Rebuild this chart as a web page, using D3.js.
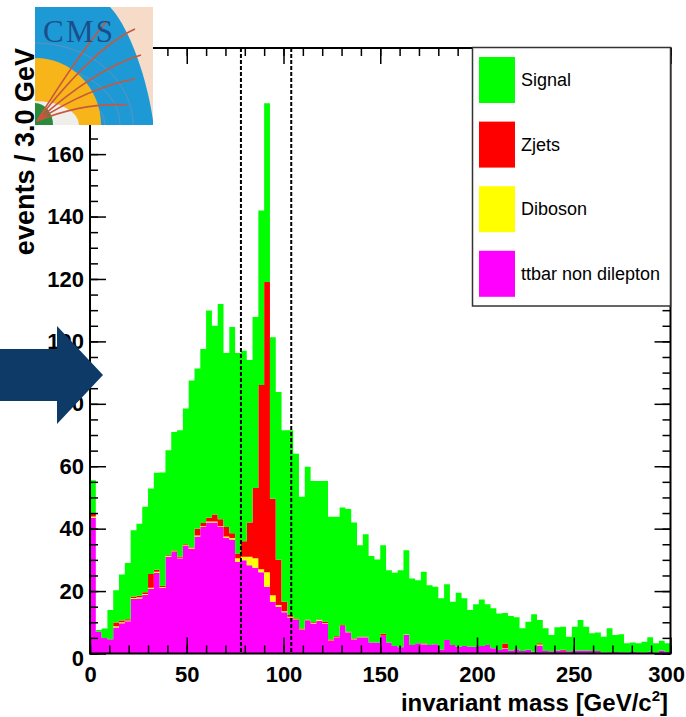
<!DOCTYPE html>
<html>
<head>
<meta charset="utf-8">
<script src="https://cdn.jsdelivr.net/npm/d3@7"></script>
<style>
  body { margin: 0; background: #fff; }
  svg { display: block; }
  text { font-family: "Liberation Sans", Arial, Helvetica, sans-serif; }
</style>
</head>
<body>
<div id="chart"></div>
<script>
(function() {
  "use strict";

  // ---- data (events per 3 GeV bin) ----
  var binWidth = 3;
  var binLow = d3.range(0, 300, binWidth);

  var ttbar = [43.5,7.0,5,4.6,8.3,9.7,10.3,17.5,17.6,18.8,
    20.7,25.8,21,31,32.5,30.5,34.5,33.5,37.5,40.5,
    42,42,40.5,37,36.5,29.4,29.9,28.3,27.5,26,
    21.4,16.6,15,13.2,11.5,10.7,7.5,10.5,9.6,10.5,
    9.6,4,5.2,8.8,6.7,4.5,5.2,5.2,3.5,3.5,
    5.6,3.5,2.4,2,5.9,2.7,3.3,3,2.7,3,
    1.3,4.3,2.7,2.2,2.4,2.2,2.2,2.4,2.7,1.7,
    1.1,1.5,1.0,1.4,0.8,1.2,0.6,2.6,0.8,0.7,
    1,0.9,0.7,0.9,1,1,0.8,0.8,0.3,0.4,
    0.5,0.4,0.3,0.5,0.4,0.3,0.6,0.3,1.0,0.5];

  var diboson = [0.4,0,0,0,0.4,0.3,0.3,0.3,0.4,0.3,
    0.4,0.4,0.3,0.2,0.2,0.2,0.2,0.2,0.3,0.3,
    0.3,0.3,0.3,0.5,0.5,1.1,1.1,2.7,3,1,
    4.6,2.1,0.5,0.3,0.3,0.2,0.2,0.1,0.2,0.2,
    0.2,0.2,0.2,0.1,0.1,0.1,0.1,0.1,0,0,
    0.1,0,0,0,0.2,0,0,0.1,0,0,
    0,0,0,0,0,0,0,0,0,0,
    0,0.2,0,0,0,0,0,0.3,0,0,
    0,0,0,0,0,0,0,0,0,0,
    0,0,0,0,0,0,0,0,0,0];

  var zjets = [0.8,0,0,0,1.2,0.6,0.4,0.4,0.5,0.5,
    4.4,0.6,0.4,0.3,0.3,0.3,0.3,0.3,2.2,1,
    1.2,2.2,2.2,3,1.5,1.5,5,11,22.5,59,
    93,30.9,14.5,3.1,0.5,0.3,0.3,0.2,0.2,0.2,
    0.4,0.3,0.2,0.2,0.2,0.2,0.1,0.1,0,0,
    0.6,0,0,0,0,0,0,0.2,0,0,
    0,0,0,0,0,0,0,0,0,0,
    0,1.5,0,0,0,0,0,0.4,0,0,
    0,0.3,0,0,0,0,0,0,0,0,
    0,0,0,0,0,0,0,0,0,0];

  var signal = [10.8,0.5,3,9.3,10.4,14.7,18,21.3,23.1,27.4,
    27.4,31.1,36.3,33.6,38,40.5,43.5,53.5,51.3,55.8,
    66.4,60.5,69,55.8,66.1,64.3,61,52,54.8,55.9,
    57.3,51.7,53.8,54.9,59.2,52.8,42.2,49,45.3,44.4,
    45.1,39.3,38.2,37.7,39.3,37.2,29.3,32.8,27.7,26.6,
    28.4,23.2,23.5,24.7,27,21.3,20.2,22.9,19.2,18.4,
    16.4,17.9,13.9,17.3,15.3,11.7,13.6,14.9,13.1,12.8,
    11.7,9.8,11,10.2,7.3,9,12,7.4,7.3,5.2,
    7.4,7.4,4.7,7.7,9.7,7.6,5.7,5.9,5.1,7.7,
    5.4,5.8,3,3,2.9,3.5,4.6,3,3.1,2.8];

  var xTicks = [0, 50, 100, 150, 200, 250, 300];
  var yTicks = [0, 20, 40, 60, 80, 100, 120, 140, 160, 180];
  var zWindow = [78, 104];

  var layers = ["ttbar", "diboson", "zjets", "signal"];
  var colors = {ttbar: "#ff00ff", diboson: "#ffff00", zjets: "#ff0000", signal: "#00ff00"};
  var legendItems = [
    {key: "signal", label: "Signal"},
    {key: "zjets", label: "Zjets"},
    {key: "diboson", label: "Diboson"},
    {key: "ttbar", label: "ttbar non dilepton"}
  ];

  // ---- layout ----
  var width = 686, height = 717;
  var frame = {left: 90, right: 670.5, top: 48, bottom: 653.5};

  var svg = d3.select("#chart").append("svg")
    .attr("width", width)
    .attr("height", height);

  var x = d3.scaleLinear().domain([0, 300]).range([frame.left, frame.right]);
  var y = d3.scaleLinear().domain([0, 194]).range([frame.bottom, frame.top]);

  // rows for the stack, plus a closing edge at 300 for the step curve
  var rows = binLow.map(function(lo, i) {
    return {x0: lo, ttbar: ttbar[i], diboson: diboson[i], zjets: zjets[i], signal: signal[i]};
  });
  rows.push(Object.assign({}, rows[rows.length - 1], {x0: 300}));

  var stacked = d3.stack().keys(layers)(rows);

  svg.append("clipPath").attr("id", "frameClip")
    .append("rect")
    .attr("x", frame.left).attr("y", frame.top)
    .attr("width", frame.right - frame.left)
    .attr("height", frame.bottom - frame.top);

  var area = d3.area()
    .curve(d3.curveStepAfter)
    .x(function(d) { return x(d.data.x0); })
    .y0(function(d) { return y(d[0]); })
    .y1(function(d) { return y(d[1]); });

  svg.append("g").attr("clip-path", "url(#frameClip)")
    .selectAll("path")
    .data(stacked)
    .join("path")
    .attr("d", area)
    .attr("fill", function(d) { return colors[d.key]; });

  // Z mass window
  svg.append("g").selectAll("line")
    .data(zWindow)
    .join("line")
    .attr("x1", function(d) { return x(d); })
    .attr("x2", function(d) { return x(d); })
    .attr("y1", frame.top)
    .attr("y2", frame.bottom)
    .attr("stroke", "#000")
    .attr("stroke-width", 2)
    .attr("stroke-dasharray", "4,2");

  // ---- axes (ROOT style: ticks point inwards on all four sides) ----
  function styleAxis(g) {
    g.select(".domain").remove();
    g.selectAll("line").attr("stroke", "#000").attr("stroke-width", 1.5);
    g.attr("font-family", null).attr("font-size", null);
    g.selectAll("text")
      .attr("font-size", 22)
      .attr("font-weight", "bold")
      .attr("fill", "#000");
  }

  var xMinor = d3.range(0, 301, 10);
  var yMinor = d3.range(0, 195, 5);

  svg.append("g").attr("transform", "translate(0," + frame.bottom + ")")
    .call(d3.axisBottom(x).tickValues(xMinor).tickSize(-8).tickFormat(""))
    .call(styleAxis);
  var xAxis = svg.append("g").attr("transform", "translate(0," + frame.bottom + ")")
    .call(d3.axisBottom(x).tickValues(xTicks).tickSize(-16).tickPadding(12.5).tickFormat(d3.format("d")))
    .call(styleAxis);
  // keep the last label inside the page, as in the original
  xAxis.selectAll(".tick text").filter(function(d) { return d === 300; })
    .attr("text-anchor", "end").attr("x", 14);

  svg.append("g").attr("transform", "translate(0," + frame.top + ")")
    .call(d3.axisTop(x).tickValues(xMinor).tickSize(-8).tickFormat(""))
    .call(styleAxis);
  svg.append("g").attr("transform", "translate(0," + frame.top + ")")
    .call(d3.axisTop(x).tickValues(xTicks).tickSize(-16).tickFormat(""))
    .call(styleAxis);

  svg.append("g").attr("transform", "translate(" + frame.left + ",0)")
    .call(d3.axisLeft(y).tickValues(yMinor).tickSize(-8).tickFormat(""))
    .call(styleAxis);
  var yAxis = svg.append("g").attr("transform", "translate(" + frame.left + ",0)")
    .call(d3.axisLeft(y).tickValues(yTicks).tickSize(-16).tickPadding(6).tickFormat(d3.format("d")))
    .call(styleAxis);
  yAxis.selectAll(".tick text").filter(function(d) { return d === 0; }).attr("dy", "0.55em");

  svg.append("g").attr("transform", "translate(" + frame.right + ",0)")
    .call(d3.axisRight(y).tickValues(yMinor).tickSize(-8).tickFormat(""))
    .call(styleAxis);
  svg.append("g").attr("transform", "translate(" + frame.right + ",0)")
    .call(d3.axisRight(y).tickValues(yTicks).tickSize(-16).tickFormat(""))
    .call(styleAxis);

  svg.append("rect")
    .attr("x", frame.left).attr("y", frame.top)
    .attr("width", frame.right - frame.left)
    .attr("height", frame.bottom - frame.top)
    .attr("fill", "none")
    .attr("stroke", "#000")
    .attr("stroke-width", 2);

  // axis titles
  var xTitle = svg.append("text")
    .attr("x", 668).attr("y", 711)
    .attr("text-anchor", "end")
    .attr("font-size", 24)
    .attr("font-weight", "bold");
  xTitle.append("tspan").text("invariant mass [GeV/c");
  xTitle.append("tspan").attr("dy", -10).attr("font-size", 15).text("2");
  xTitle.append("tspan").attr("dy", 10).text("]");

  svg.append("text")
    .attr("transform", "translate(34," + frame.top + ") rotate(-90)")
    .attr("text-anchor", "end")
    .attr("font-size", 27)
    .attr("font-weight", "bold")
    .text("events / 3.0 GeV");

  // ---- legend ----
  var legend = svg.append("g");
  legend.append("rect")
    .attr("x", 472.5).attr("y", frame.top - 0.5)
    .attr("width", frame.right - 472.5)
    .attr("height", 258.5)
    .attr("fill", "#fff")
    .attr("stroke", "#333")
    .attr("stroke-width", 1.5);

  var entry = legend.selectAll("g.entry")
    .data(legendItems)
    .join("g")
    .attr("class", "entry")
    .attr("transform", function(d, i) { return "translate(479," + (57 + i * 64.6) + ")"; });
  entry.append("rect")
    .attr("width", 36).attr("height", 46)
    .attr("fill", function(d) { return colors[d.key]; });
  entry.append("text")
    .attr("x", 42).attr("y", 23).attr("dy", "0.35em")
    .attr("font-size", 18)
    .attr("fill", "#000")
    .text(function(d) { return d.label; });

  // ---- CMS logo (drawn over the top-left corner) ----
  var logo = svg.append("g").attr("transform", "translate(35,7)");
  var side = 118;
  function quarter(rx, ry) {
    return "M0," + (side - ry) + " A" + rx + "," + ry + " 0 0 1 " + rx + "," + side + " L0," + side + " Z";
  }
  logo.append("rect").attr("width", side).attr("height", side).attr("fill", "#f6dcc8");
  logo.append("path")
    .attr("d", "M0,0 L75,0 C90,15 110,60 118,113 L118,118 L0,118 Z")
    .attr("fill", "#1d9ad6");
  [[70, 40], [85, 60], [98, 82]].forEach(function(r) {
    logo.append("path").attr("d", quarter(r[0], r[1]).replace(/ L0,118 Z$/, ""))
      .attr("fill", "none").attr("stroke", "#5f93bd").attr("stroke-width", 1);
  });
  logo.append("path").attr("d", quarter(66, 67)).attr("fill", "#f7b51a");
  logo.append("path").attr("d", quarter(44, 24)).attr("fill", "#efeeea");
  logo.append("path").attr("d", quarter(18, 22)).attr("fill", "#2b8b3d");
  [[100, 22, 60, 40], [106, 48, 60, 62], [100, 72, 55, 80], [92, 98, 50, 95], [72, 14, 45, 45]].forEach(function(t) {
    logo.append("path")
      .attr("d", "M2,114 Q" + t[2] + "," + t[3] + " " + t[0] + "," + t[1])
      .attr("fill", "none").attr("stroke", "#c9573e").attr("stroke-width", 1.6);
  });
  logo.append("text")
    .attr("x", 8).attr("y", 35)
    .style("font-family", "'Liberation Serif', 'DejaVu Serif', serif")
    .attr("font-size", 31)
    .attr("textLength", 70)
    .attr("fill", "#1b4f8c")
    .text("CMS");

  // ---- navy arrow on the left ----
  svg.append("path")
    .attr("d", "M0,349 L57,349 L57,326 L103,375 L57,424 L57,401 L0,401 Z")
    .attr("fill", "#0d3a66");
})();
</script>
</body>
</html>
